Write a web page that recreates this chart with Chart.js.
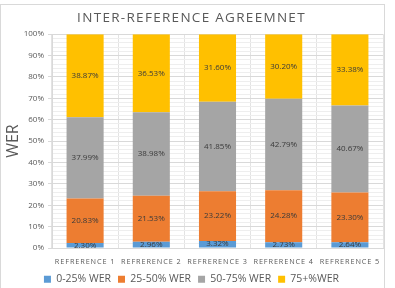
<!DOCTYPE html>
<html>
<head>
<meta charset="utf-8">
<script src="https://cdn.jsdelivr.net/npm/chart.js@4.4.1/dist/chart.umd.min.js"></script>
<style>
html,body{margin:0;padding:0;background:#fff;}
#wrap{position:relative;width:395px;height:288px;}
#frame{position:absolute;left:0;top:4px;width:385px;height:290px;border:1px solid #d9d9d9;box-sizing:border-box;pointer-events:none;}
canvas{display:block;}
</style>
</head>
<body>
<div id="wrap"><canvas id="c" width="395" height="288"></canvas><div id="frame"></div></div>
<script>
const categories = ["REFRERENCE 1","REFRERENCE 2","REFRERENCE 3","REFRERENCE 4","REFRERENCE 5"];
const seriesNames = ["0-25% WER","25-50% WER","50-75% WER","75+%WER"];
const wer0_25 = [2.30, 2.96, 3.32, 2.73, 2.64];
const wer25_50 = [20.83, 21.53, 23.22, 24.28, 23.30];
const wer50_75 = [37.99, 38.98, 41.85, 42.79, 40.67];
const wer75plus = [38.87, 36.53, 31.60, 30.20, 33.38];
const seriesColors = ["#5B9BD5","#ED7D31","#A5A5A5","#FFC000"];
const yTicks = [0,10,20,30,40,50,60,70,80,90,100];

const FONT = "'Open Sans', 'Liberation Sans', sans-serif";

function spaced(obj, method, spacing){
  if (obj['_ls_'+method]) return;
  const orig = obj[method];
  obj[method] = function(){
    const ctx = this.ctx;
    ctx.save();
    ctx.letterSpacing = spacing;
    const r = orig.apply(this, arguments);
    ctx.restore();
    return r;
  };
  obj['_ls_'+method] = true;
}

const labelPlugin = {
  id: 'segLabels',
  afterInit(chart){
    if (chart.titleBlock) spaced(chart.titleBlock, 'draw', '1.3px');
    if (chart.legend && !chart.legend._fitPatched){
      const lg = chart.legend;
      const f = lg.fit;
      lg.fit = function(){ f.apply(this, arguments); this.height = 21; this.bottom = this.top + 21; };
      lg._fitPatched = true;
    }
  },
  afterDatasetsDraw(chart){
    const ctx = chart.ctx;
    ctx.save();
    ctx.font = "8px " + FONT;
    ctx.fillStyle = "#3a3a3a";
    ctx.textAlign = 'center';
    ctx.textBaseline = 'middle';
    chart.data.datasets.forEach((ds, di) => {
      const meta = chart.getDatasetMeta(di);
      meta.data.forEach((bar, i) => {
        const v = ds.data[i];
        const yc = (bar.y + bar.base) / 2;
        ctx.fillText(v.toFixed(2) + '%', bar.x, yc);
      });
    });
    ctx.restore();
  }
};

const datasets = [wer0_25, wer25_50, wer50_75, wer75plus].map((d, i) => ({
  label: seriesNames[i],
  data: d,
  backgroundColor: seriesColors[i],
  borderWidth: 0,
  categoryPercentage: 1.0,
  barPercentage: 0.56
}));

new Chart(document.getElementById('c'), {
  type: 'bar',
  data: { labels: categories, datasets },
  options: {
    responsive: false,
    animation: false,
    devicePixelRatio: 1,
    layout: { padding: { left: 0, right: 12, top: 0, bottom: 0 } },
    plugins: {
      title: {
        display: true,
        text: 'INTER-REFERENCE AGREEMNET',
        color: '#595959',
        font: { family: FONT, size: 13.5, weight: 'normal' },
        padding: { top: 10, bottom: 8 }
      },
      legend: {
        position: 'bottom',
        labels: {
          color: '#595959',
          font: { family: FONT, size: 10.5 },
          boxWidth: 7, boxHeight: 7,
          padding: 7
        }
      },
      tooltip: { enabled: false }
    },
    scales: {
      x: {
        stacked: true,
        grid: { offset: true, color: '#e3e3e3', drawTicks: false },
        border: { color: '#d9d9d9' },
        ticks: { color: '#595959', font: { family: FONT, size: 7.3 }, padding: 10, maxRotation: 0, autoSkip: false },
        afterBuildTicks(scale){ spaced(scale, 'drawLabels', '0.9px'); },
        afterFit(scale){ scale.height = 19; }
      },
      y: {
        stacked: true,
        min: 0, max: 100,
        afterBuildTicks(scale){
          const t = [];
          for (let v = 0; v <= 100; v += 2) t.push({ value: v });
          scale.ticks = t;
        },
        ticks: {
          autoSkip: false,
          color: '#595959',
          font: { family: FONT, size: 8 },
          padding: 4,
          callback: (v) => yTicks.includes(v) ? v + '%' : ''
        },
        grid: {
          color: (c) => (c.tick && c.tick.value % 10 === 0) ? '#d9d9d9' : '#eeeeee',
          tickColor: (c) => (c.tick && c.tick.value % 10 === 0) ? '#d9d9d9' : 'rgba(0,0,0,0)',
          tickLength: 4
        },
        border: { color: '#d9d9d9' },
        title: {
          display: true, text: 'WER', color: '#595959',
          font: { family: FONT, size: 16 }, padding: { top: 4, bottom: 2 }
        },
        afterFit(scale){ scale.width = 52; }
      }
    }
  },
  plugins: [labelPlugin]
});
</script>
</body>
</html>
